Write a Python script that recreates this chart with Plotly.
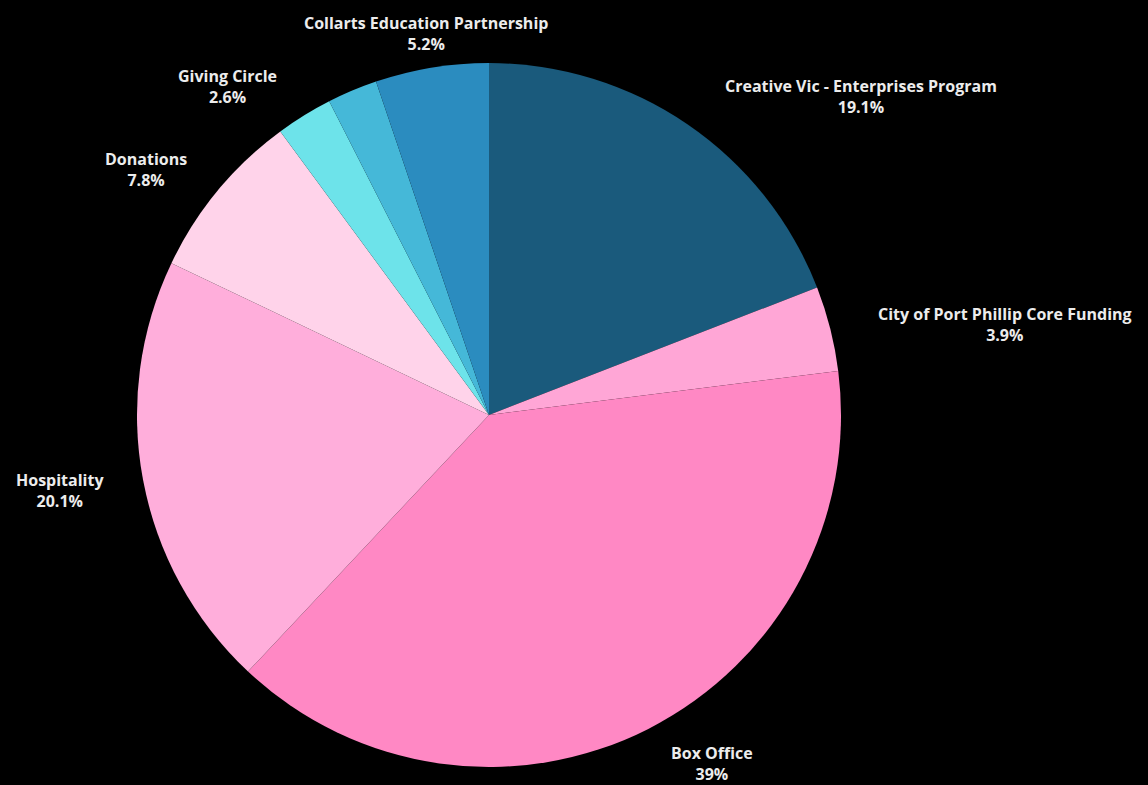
import plotly.graph_objects as go

W, H = 1148, 785

categories = [
    "Creative Vic - Enterprises Program",
    "City of Port Phillip Core Funding",
    "Box Office",
    "Hospitality",
    "Donations",
    "Giving Circle",
    "Other",
    "Collarts Education Partnership",
]
values = [19.1, 3.9, 39.0, 20.1, 7.8, 2.6, 2.3, 5.2]
pct_labels = ["19.1%", "3.9%", "39%", "20.1%", "7.8%", "2.6%", "", "5.2%"]
show_label = [True, True, True, True, True, True, False, True]

colors = ["#1a5a7c", "#ffa6d6", "#ff88c4", "#ffaedb", "#ffd3ea",
          "#6de3ea", "#45b8d8", "#2b8cbf"]

# label anchor centres (pixels) – layout only
label_px = [(861, 97), (1005, 324), (712, 763), (60, 490), (146, 170),
            (227, 87), None, (426, 34)]

cx, cy, R = 489, 415, 352

fig = go.Figure(go.Pie(
    labels=categories,
    values=values,
    sort=False,
    direction="clockwise",
    rotation=0,
    marker=dict(colors=colors, line=dict(width=0)),
    textinfo="none",
    hoverinfo="label+percent",
    domain=dict(x=[(cx - R) / W, (cx + R) / W],
                y=[1 - (cy + R) / H, 1 - (cy - R) / H]),
    showlegend=False,
))

for name, pct, show, pos in zip(categories, pct_labels, show_label, label_px):
    if not show or pos is None:
        continue
    fig.add_annotation(
        x=pos[0] / W, y=1 - pos[1] / H, xref="paper", yref="paper",
        text=f"{name}<br>{pct}", showarrow=False,
        font=dict(family="Open Sans, Lato, sans-serif", size=16, color="#ececec", weight="bold"),
        align="center", xanchor="center", yanchor="middle",
    )

fig.update_layout(
    width=W, height=H,
    paper_bgcolor="#000000", plot_bgcolor="#000000",
    margin=dict(l=0, r=0, t=0, b=0),
)

fig.write_html(
    "out.html",
    config={"displayModeBar": False},
    post_script="document.body.style.margin='0';document.body.style.background='#000';document.body.style.overflow='hidden';",
)
